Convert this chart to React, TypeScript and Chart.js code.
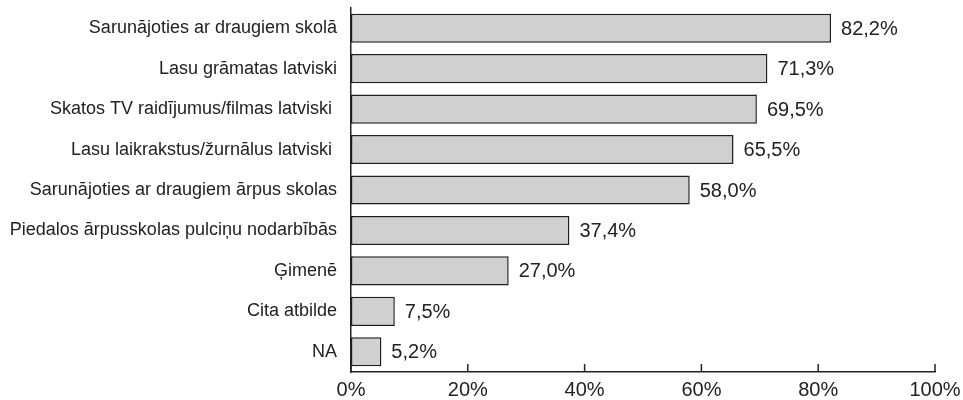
import React, { useEffect, useRef } from "react";
import { Chart, registerables } from "chart.js";

Chart.register(...registerables);

const categories = [
  "Sarunājoties ar draugiem skolā",
  "Lasu grāmatas latviski",
  "Skatos TV raidījumus/filmas latviski ",
  "Lasu laikrakstus/žurnālus latviski ",
  "Sarunājoties ar draugiem ārpus skolas",
  "Piedalos ārpusskolas pulciņu nodarbībās",
  "Ģimenē",
  "Cita atbilde",
  "NA",
];
const values = [82.2, 71.3, 69.5, 65.5, 58.0, 37.4, 27.0, 7.5, 5.2];
const xTicks = [0, 20, 40, 60, 80, 100];

const FONT = "'Liberation Sans', Arial, Helvetica, sans-serif";
const INK = "#222222";

const fmt = (v: number) => v.toFixed(1).replace(".", ",") + "%";

export default function App() {
  const ref = useRef<HTMLCanvasElement | null>(null);

  useEffect(() => {
    if (!ref.current) return;

    const valueLabels = {
      id: "valueLabels",
      afterDatasetsDraw(chart: any) {
        const ctx = chart.ctx;
        const meta = chart.getDatasetMeta(0);
        ctx.save();
        ctx.font = `20px ${FONT}`;
        ctx.fillStyle = INK;
        ctx.textAlign = "left";
        ctx.textBaseline = "middle";
        meta.data.forEach((bar: any, i: number) => {
          ctx.fillText(fmt(values[i]), bar.x + 10, bar.y + 1);
        });
        ctx.restore();
      },
    };

    const innerTicks = {
      id: "innerTicks",
      afterDraw(chart: any) {
        const ctx = chart.ctx;
        const xs = chart.scales.x;
        const bottom = chart.chartArea.bottom;
        ctx.save();
        ctx.strokeStyle = INK;
        ctx.lineWidth = 1.5;
        xTicks.forEach((t) => {
          const px = xs.getPixelForValue(t);
          ctx.beginPath();
          ctx.moveTo(px, bottom);
          ctx.lineTo(px, bottom - 8);
          ctx.stroke();
        });
        ctx.restore();
      },
    };

    const chart = new Chart(ref.current, {
      type: "bar",
      data: {
        labels: categories,
        datasets: [
          {
            data: values,
            backgroundColor: "#d0d0d0",
            borderColor: "#1e1e1e",
            borderWidth: 1.5,
            borderSkipped: false,
            categoryPercentage: 0.8,
            barPercentage: 0.9,
          },
        ],
      },
      options: {
        indexAxis: "y",
        responsive: false,
        animation: false,
        layout: { padding: { top: 8, right: 28, left: 0, bottom: 0 } },
        plugins: {
          legend: { display: false },
          tooltip: { enabled: false },
        },
        scales: {
          x: {
            min: 0,
            max: 100,
            afterBuildTicks(scale: any) {
              scale.ticks = xTicks.map((v) => ({ value: v }));
            },
            afterFit(scale: any) {
              scale.height = 28;
              scale.paddingLeft = 0;
              scale.paddingRight = 0;
            },
            grid: { display: false, drawTicks: false },
            border: { display: true, color: INK, width: 1.5 },
            ticks: {
              padding: 6,
              color: INK,
              font: { family: FONT, size: 20 },
              maxRotation: 0,
              callback: (v: any) => `${v}%`,
            },
          },
          y: {
            afterFit(scale: any) {
              scale.width = 351;
              scale.paddingTop = 0;
              scale.paddingBottom = 0;
            },
            grid: { display: false, drawTicks: false },
            border: { display: true, color: INK, width: 1.5 },
            ticks: {
              padding: 14,
              color: INK,
              font: { family: FONT, size: 18 },
              autoSkip: false,
            },
          },
        },
      },
      plugins: [valueLabels, innerTicks],
    });

    return () => chart.destroy();
  }, []);

  return (
    <div style={{ position: "absolute", left: 0, top: 0, width: 963, height: 400, background: "#fff" }}>
      <canvas ref={ref} width={963} height={400} style={{ display: "block" }} />
    </div>
  );
}
